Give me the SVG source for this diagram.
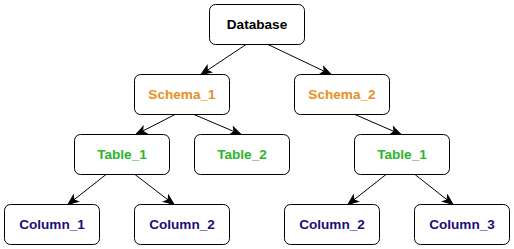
<svg xmlns="http://www.w3.org/2000/svg" width="514" height="249" viewBox="0 0 514 249">
<style>
.box{fill:#ffffff;stroke:#000000;stroke-width:1}
.lbl{font-family:"Liberation Sans",Arial,sans-serif;font-size:13.6px;font-weight:bold;text-anchor:middle}
.db{fill:#000000}
.sc{fill:#E8901E}
.tb{fill:#2BB52B}
.col{fill:#1C0E7C}
.edge{fill:none;stroke:#000000;stroke-width:1;marker-end:url(#arr)}
</style>
<defs>
<marker id="arr" markerUnits="userSpaceOnUse" markerWidth="12" markerHeight="12" viewBox="0 0 12 12" refX="11" refY="6" orient="auto">
<path d="M1,2 L11,6 L1,10 L3.5,6 Z" fill="#000000" stroke="#000000" stroke-width="1"/>
</marker>
</defs>
<rect width="514" height="249" fill="#ffffff"/>
<g id="connectors">
<line class="edge" x1="246" y1="44.5" x2="201" y2="74.5"/>
<line class="edge" x1="268" y1="44.5" x2="331" y2="74.5"/>
<line class="edge" x1="175" y1="114.5" x2="136" y2="134.5"/>
<line class="edge" x1="194" y1="114.5" x2="241" y2="134.5"/>
<line class="edge" x1="355" y1="114.5" x2="401" y2="134.5"/>
<line class="edge" x1="106" y1="174.5" x2="68" y2="204.5"/>
<line class="edge" x1="135" y1="174.5" x2="174" y2="204.5"/>
<line class="edge" x1="386" y1="174.5" x2="348" y2="204.5"/>
<line class="edge" x1="415" y1="174.5" x2="453" y2="204.5"/>
</g>
<g id="database">
<rect class="box" x="209.5" y="4.5" width="95" height="40" rx="6" ry="6"/>
<text class="lbl db" x="257" y="29.4">Database</text>
</g>
<g id="schema1">
<rect class="box" x="134.5" y="74.5" width="95" height="40" rx="6" ry="6"/>
<text class="lbl sc" x="182" y="99.4">Schema_1</text>
</g>
<g id="schema2">
<rect class="box" x="294.5" y="74.5" width="95" height="40" rx="6" ry="6"/>
<text class="lbl sc" x="342" y="99.4">Schema_2</text>
</g>
<g id="table1a">
<rect class="box" x="74.5" y="134.5" width="95" height="40" rx="6" ry="6"/>
<text class="lbl tb" x="122" y="159.4">Table_1</text>
</g>
<g id="table2">
<rect class="box" x="194.5" y="134.5" width="95" height="40" rx="6" ry="6"/>
<text class="lbl tb" x="242" y="159.4">Table_2</text>
</g>
<g id="table1b">
<rect class="box" x="354.5" y="134.5" width="95" height="40" rx="6" ry="6"/>
<text class="lbl tb" x="402" y="159.4">Table_1</text>
</g>
<g id="column1">
<rect class="box" x="4.5" y="204.5" width="95" height="40" rx="6" ry="6"/>
<text class="lbl col" x="52" y="229.4">Column_1</text>
</g>
<g id="column2a">
<rect class="box" x="134.5" y="204.5" width="95" height="40" rx="6" ry="6"/>
<text class="lbl col" x="182" y="229.4">Column_2</text>
</g>
<g id="column2b">
<rect class="box" x="284.5" y="204.5" width="95" height="40" rx="6" ry="6"/>
<text class="lbl col" x="332" y="229.4">Column_2</text>
</g>
<g id="column3">
<rect class="box" x="414.5" y="204.5" width="95" height="40" rx="6" ry="6"/>
<text class="lbl col" x="462" y="229.4">Column_3</text>
</g>
</svg>
